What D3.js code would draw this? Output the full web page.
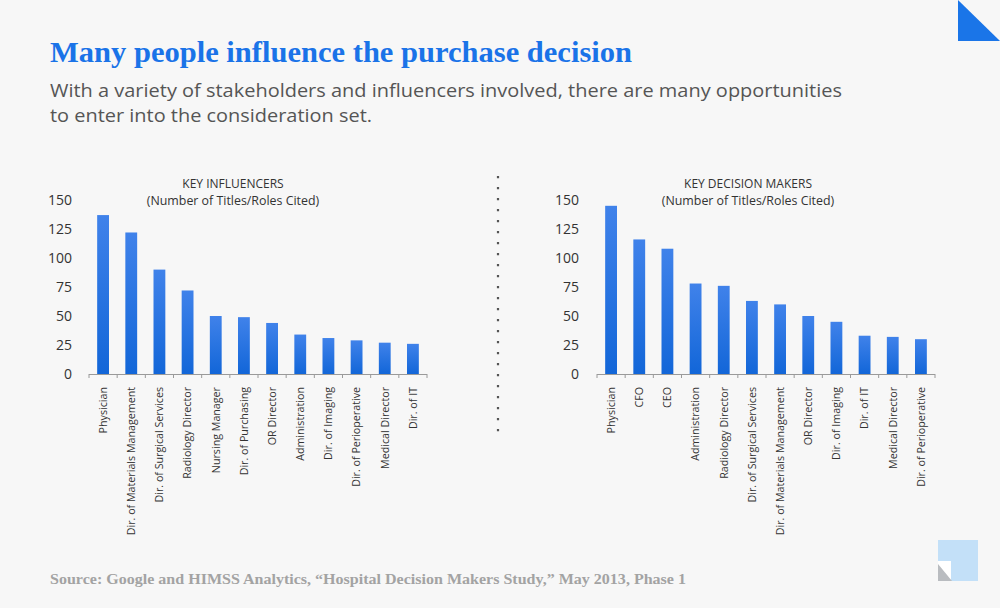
<!DOCTYPE html>
<html><head><meta charset="utf-8">
<script src="https://cdn.jsdelivr.net/npm/d3@7"></script>
<style>body{margin:0;background:#f7f7f7}svg{display:block}</style>
</head><body>
<svg id="c" width="1000" height="608"></svg>
<script>
const influencerCategories = ["Physician","Dir. of Materials Management","Dir. of Surgical Services","Radiology Director","Nursing Manager","Dir. of Purchasing","OR Director","Administration","Dir. of Imaging","Dir. of Perioperative","Medical Director","Dir. of IT"];
const influencerValues = [137,122,90,72,50,49,44,34,31,29,27,26];
const deciderCategories = ["Physician","CFO","CEO","Administration","Radiology Director","Dir. of Surgical Services","Dir. of Materials Management","OR Director","Dir. of Imaging","Dir. of IT","Medical Director","Dir. of Perioperative"];
const deciderValues = [145,116,108,78,76,63,60,50,45,33,32,30];
const yTicks = [0,25,50,75,100,125,150];

const svg = d3.select("#c");
svg.append("rect").attr("width",1000).attr("height",608).attr("fill","#f7f7f7");

const defs = svg.append("defs");
const g = defs.append("linearGradient").attr("id","bg").attr("x1",0).attr("y1",0).attr("x2",0).attr("y2",1);
g.append("stop").attr("offset","0%").attr("stop-color","#4082ea");
g.append("stop").attr("offset","100%").attr("stop-color","#1266d8");

// corner decorations
svg.append("path").attr("d","M958,0 L1000,41 L958,41 Z").attr("fill","#1a75e8");
svg.append("rect").attr("x",938).attr("y",540).attr("width",40).attr("height",41).attr("fill","#c3e0f8");
svg.append("rect").attr("x",938).attr("y",561).attr("width",13).attr("height",20).attr("fill","#ffffff");
svg.append("path").attr("d","M938,564 L952,581 L938,581 Z").attr("fill","#b9bcc0");

// titles
svg.append("text").attr("x",50).attr("y",62)
  .attr("font-family","'Liberation Serif', serif").attr("font-weight","bold")
  .attr("font-size",29).attr("fill","#1a73e8")
  .attr("textLength",582).attr("lengthAdjust","spacingAndGlyphs")
  .text("Many people influence the purchase decision");
const sub = ["With a variety of stakeholders and influencers involved, there are many opportunities","to enter into the consideration set."];
const subLen = [792, 322];
sub.forEach((s,i)=>{
  svg.append("text").attr("x",50).attr("y",96.5+i*25.7)
    .attr("font-family","'Open Sans', sans-serif").attr("font-size",18.8).attr("fill","#555")
    .attr("textLength",subLen[i]).attr("lengthAdjust","spacingAndGlyphs")
    .text(s);
});
svg.append("text").attr("x",50).attr("y",584)
  .attr("font-family","'Liberation Serif', serif").attr("font-weight","bold")
  .attr("font-size",15).attr("fill","#a3a3a3")
  .attr("textLength",636).attr("lengthAdjust","spacingAndGlyphs")
  .text("Source: Google and HIMSS Analytics, \u201cHospital Decision Makers Study,\u201d May 2013, Phase 1");

// divider
svg.append("line").attr("x1",498).attr("x2",498).attr("y1",176).attr("y2",436)
  .attr("stroke","#555").attr("stroke-width",2.2).attr("stroke-dasharray","2.2,8.8");

function chart(x0, x1, labelRight, cats, vals, t1, t2, tcx){
  const y = d3.scaleLinear().domain([0,150]).range([374,200]);
  const x = d3.scaleBand().domain(cats).range([x0,x1]).paddingInner(0.58).paddingOuter(0.29);
  const step = x.step();
  const root = svg.append("g");
  root.append("text").attr("x",tcx).attr("y",188).attr("text-anchor","middle")
    .attr("font-family","'Open Sans', sans-serif").attr("font-size",12).attr("fill","#333").text(t1);
  root.append("text").attr("x",tcx).attr("y",205).attr("text-anchor","middle")
    .attr("font-family","'Open Sans', sans-serif").attr("font-size",12.4).attr("fill","#333").text(t2);
  const ya = root.append("g").attr("transform",`translate(${labelRight},0)`)
    .call(d3.axisLeft(y).tickValues(yTicks).tickSize(0).tickPadding(0));
  ya.select(".domain").remove();
  ya.selectAll("text").attr("font-family","'Open Sans', sans-serif").attr("font-size",14).attr("fill","#333").attr("dy","0.35em");
  root.selectAll("rect.bar").data(cats).join("rect").attr("class","bar")
    .attr("x",d=>x(d)).attr("width",x.bandwidth())
    .attr("y",(d,i)=>y(vals[i])).attr("height",(d,i)=>y(0)-y(vals[i]))
    .attr("fill","url(#bg)");
  root.append("line").attr("x1",x0).attr("x2",x1).attr("y1",374.5).attr("y2",374.5).attr("stroke","#9a9a9a").attr("stroke-width",1);
  const bounds = d3.range(cats.length+1).map(i=>x0+i*step);
  root.selectAll("line.tk").data(bounds).join("line").attr("class","tk")
    .attr("x1",d=>d).attr("x2",d=>d).attr("y1",374).attr("y2",378).attr("stroke","#9a9a9a");
  root.selectAll("text.cat").data(cats).join("text").attr("class","cat")
    .attr("transform",d=>`translate(${x(d)+x.bandwidth()/2+3.8},387) rotate(-90)`)
    .attr("text-anchor","end").attr("font-family","'Open Sans', sans-serif").attr("font-size",10.7).attr("fill","#333")
    .text(d=>d);
}
chart(89,427,72,influencerCategories,influencerValues,"KEY INFLUENCERS","(Number of Titles/Roles Cited)",233);
chart(597,935,579,deciderCategories,deciderValues,"KEY DECISION MAKERS","(Number of Titles/Roles Cited)",748);
</script>
</body></html>
